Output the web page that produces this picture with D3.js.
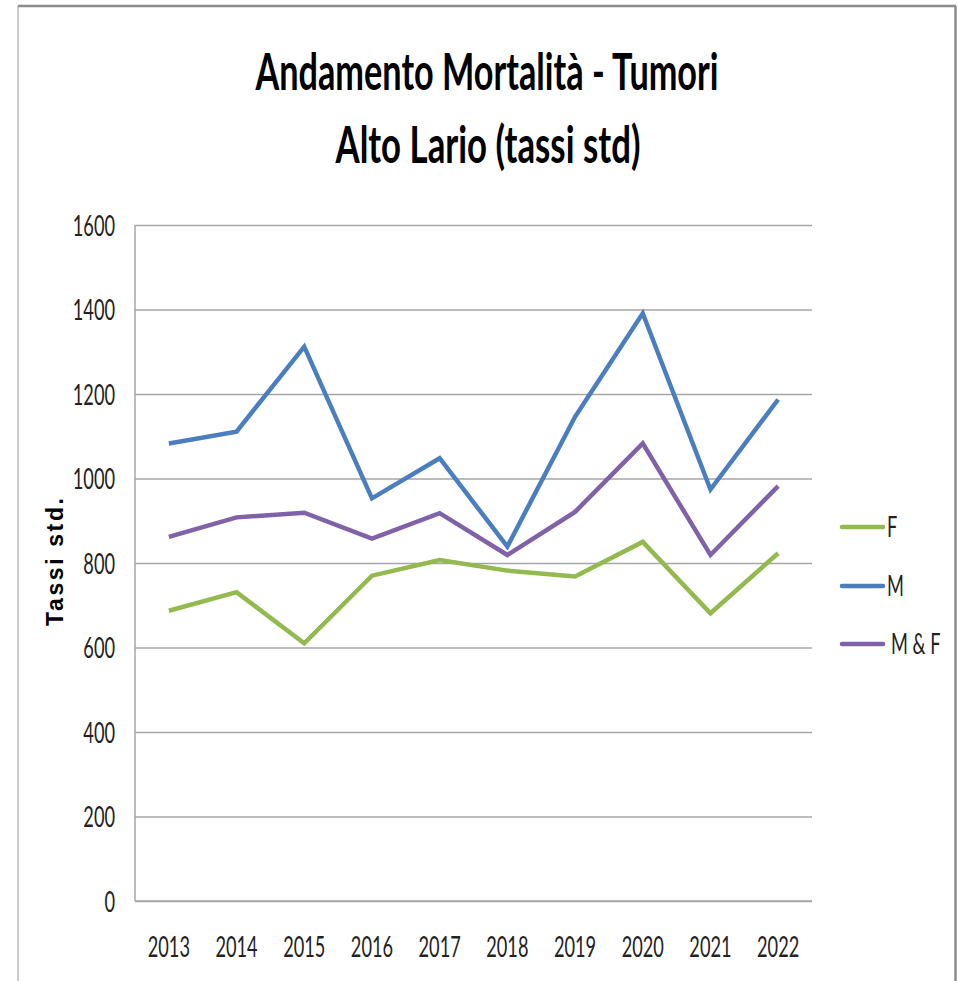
<!DOCTYPE html>
<html>
<head>
<meta charset="utf-8">
<script src="https://cdn.jsdelivr.net/npm/d3@7"></script>
<style>
  body { margin: 0; background: #fff; }
  svg { display: block; }
</style>
</head>
<body>
<svg width="960" height="981"></svg>
<script>
// data
const years = ["2013", "2014", "2015", "2016", "2017", "2018", "2019", "2020", "2021", "2022"];
const valuesF = [687, 731, 610, 770, 807, 782, 768, 850, 681, 823];
const valuesM = [1083, 1111, 1312, 953, 1048, 839, 1146, 1391, 974, 1187];
const valuesMF = [862, 908, 919, 858, 918, 819, 921, 1083, 819, 982];
const seriesNames = ["F", "M", "M & F"];
const seriesColors = ["#93b94f", "#4a7ebf", "#8062a8"];
const yTicks = [0, 200, 400, 600, 800, 1000, 1200, 1400, 1600];

const series = [valuesF, valuesM, valuesMF];

const svg = d3.select("svg");
const marge = {top: 225, left: 135, right: 812, bottom: 901};

// outer frame (left thin, top/right heavier)
svg.append("line").attr("x1", 18).attr("x2", 18).attr("y1", 6).attr("y2", 990)
  .attr("stroke", "#b8b8b8").attr("stroke-width", 1.5);
svg.append("line").attr("x1", 18).attr("x2", 956).attr("y1", 6).attr("y2", 6)
  .attr("stroke", "#8c8c8c").attr("stroke-width", 2.5);
svg.append("line").attr("x1", 955.5).attr("x2", 955.5).attr("y1", 6).attr("y2", 990)
  .attr("stroke", "#8c8c8c").attr("stroke-width", 2.5);

// title
const title = svg.append("g").attr("font-family", "Lato, 'Open Sans', sans-serif")
  .attr("font-weight", "bold").attr("font-size", "52px").attr("text-anchor", "middle");
title.append("text").attr("x", 487).attr("y", 90)
  .attr("textLength", 463).attr("lengthAdjust", "spacingAndGlyphs")
  .text("Andamento Mortalità - Tumori");
title.append("text").attr("x", 488).attr("y", 163)
  .attr("textLength", 305).attr("lengthAdjust", "spacingAndGlyphs")
  .text("Alto Lario (tassi std)");

// scales
const xScale = d3.scalePoint().domain(years).range([marge.left, marge.right]).padding(0.5);
const yScale = d3.scaleLinear().domain([0, 1600]).range([marge.bottom, marge.top]);

// y axis with gridlines
const sx = 0.65;
const yAxis = d3.axisLeft(yScale).tickValues(yTicks).tickFormat(d3.format("d"))
  .tickSize(-(marge.right - marge.left)).tickPadding(0);
const gy = svg.append("g").attr("transform", "translate(" + marge.left + ",0)").call(yAxis);
gy.select(".domain").remove();
gy.selectAll(".tick line").attr("stroke", "#a6a6a6").attr("stroke-width", 1.5);
gy.selectAll(".tick text")
  .attr("x", -20 / sx)
  .attr("dy", "0.36em")
  .attr("transform", "scale(" + sx + ",1)")
  .attr("font-family", "Lato, 'Open Sans', sans-serif")
  .attr("font-size", "28px")
  .attr("fill", "#222");
svg.append("line").attr("x1", marge.left).attr("x2", marge.left)
  .attr("y1", marge.top).attr("y2", marge.bottom)
  .attr("stroke", "#a6a6a6").attr("stroke-width", 1.5);

// x axis
const xAxis = d3.axisBottom(xScale).tickSize(0).tickPadding(0);
const gx = svg.append("g").attr("transform", "translate(0," + marge.bottom + ")").call(xAxis);
gx.select(".domain").attr("stroke", "#a6a6a6").attr("stroke-width", 1.5)
  .attr("d", "M" + marge.left + ",0H" + marge.right);
gx.selectAll(".tick text")
  .attr("y", 56)
  .attr("dy", 0)
  .attr("transform", "scale(" + sx + ",1)")
  .attr("font-family", "Lato, 'Open Sans', sans-serif")
  .attr("font-size", "28px")
  .attr("fill", "#222");
gx.selectAll(".tick").attr("transform", d => "translate(" + xScale(d) + ",0)");

// y axis title
svg.append("text")
  .attr("transform", "translate(63,562) rotate(-90)")
  .attr("text-anchor", "middle")
  .attr("font-family", "'Liberation Sans', Arial, sans-serif")
  .attr("font-weight", "bold")
  .attr("font-size", "23px")
  .attr("textLength", 128).attr("lengthAdjust", "spacing")
  .text("Tassi  std.");

// lines
const line = d3.line()
  .x((d, i) => xScale(years[i]))
  .y(d => yScale(d));
svg.append("g").selectAll("path")
  .data(series)
  .join("path")
  .attr("d", line)
  .attr("fill", "none")
  .attr("stroke", (d, i) => seriesColors[i])
  .attr("stroke-width", 4.5)
  .attr("stroke-linejoin", "miter")
  .attr("stroke-linecap", "butt");

// legend
const legendY = [527, 586, 644];
const lg = svg.append("g").selectAll("g")
  .data(seriesNames)
  .join("g")
  .attr("transform", (d, i) => "translate(842," + legendY[i] + ")");
lg.append("line").attr("x1", 0).attr("x2", 41).attr("y1", 0).attr("y2", 0)
  .attr("stroke", (d, i) => seriesColors[i]).attr("stroke-width", 4.5)
  .attr("stroke-linecap", "round");
lg.append("text")
  .attr("x", (d, i) => (i === 2 ? 49 : 45) / sx)
  .attr("dy", "0.36em")
  .attr("transform", "scale(" + sx + ",1)")
  .attr("font-family", "Lato, 'Open Sans', sans-serif")
  .attr("font-size", "28px")
  .attr("fill", "#222")
  .text(d => d);
</script>
</body>
</html>
